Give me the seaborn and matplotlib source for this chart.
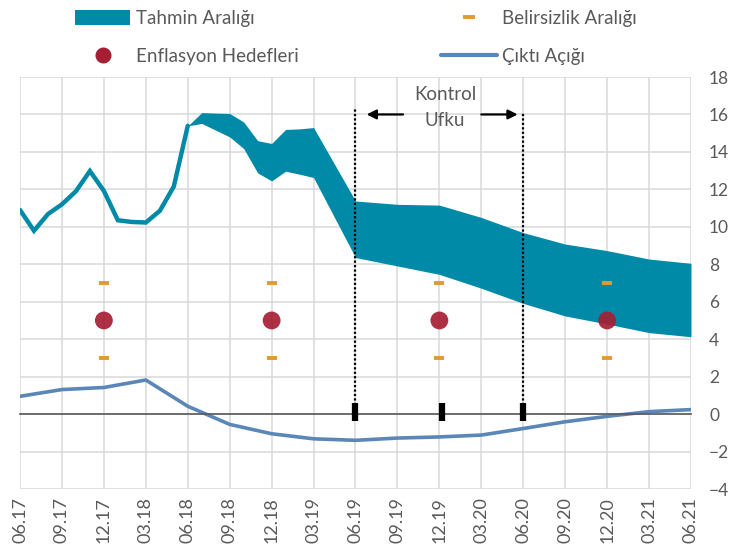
import matplotlib
matplotlib.use("Agg")
import matplotlib.pyplot as plt
import seaborn as sns
from matplotlib.patches import Patch
from matplotlib.lines import Line2D

# ---------------- data ----------------
tick_labels = ['06.17', '09.17', '12.17', '03.18', '06.18', '09.18', '12.18', '03.19',
               '06.19', '09.19', '12.19', '03.20', '06.20', '09.20', '12.20', '03.21', '06.21']
tick_months = list(range(0, 49, 3))

hist_month = list(range(13))
hist_infl = [10.9, 9.79, 10.68, 11.2, 11.9, 12.98, 11.92, 10.35, 10.26, 10.23, 10.85, 12.15, 15.39]

band_month = [12, 13, 14, 15, 16, 17, 18, 19, 20, 21, 24, 27, 30, 33, 36, 39, 42, 45, 48]
band_upper = [15.39, 16.1, 16.07, 16.05, 15.6, 14.6, 14.45, 15.2, 15.23, 15.3,
              11.38, 11.2, 11.16, 10.5, 9.69, 9.08, 8.73, 8.28, 8.05]
band_lower = [15.39, 15.52, 15.16, 14.8, 14.18, 12.88, 12.45, 12.97, 12.81, 12.63,
              8.36, 7.91, 7.46, 6.72, 5.91, 5.24, 4.81, 4.35, 4.13]

gap_month = list(range(0, 49, 3))
gap_values = [0.95, 1.31, 1.42, 1.82, 0.42, -0.55, -1.05, -1.32, -1.4, -1.28, -1.22,
              -1.12, -0.77, -0.41, -0.12, 0.13, 0.24]

target_month = [6, 18, 30, 42]
target_values = [5, 5, 5, 5]
unc_upper = [7, 7, 7, 7]
unc_lower = [3, 3, 3, 3]

horizon_month = [24, 36]
horizon_top = [16.3, 16.15]
marker_month = [24, 30.2, 36]

# ---------------- style ----------------
sns.set_style("white")
plt.rcParams['font.family'] = ['Lato', 'DejaVu Sans']
TXT = '#595959'
BAND = '#008AA8'
RED = '#A61E34'
ORANGE = '#E39A2C'
GAP = '#5B87B8'

fig = plt.figure(figsize=(7.31, 5.58), dpi=100)
ax = fig.add_axes([20 / 731, 69 / 558, 671 / 731, 412 / 558])

ax.fill_between(band_month, band_lower, band_upper, color=BAND, lw=0, zorder=2)
sns.lineplot(x=hist_month, y=hist_infl, ax=ax, color=BAND, lw=3.2, zorder=3,
             solid_joinstyle='miter')
sns.lineplot(x=gap_month, y=gap_values, ax=ax, color=GAP, lw=2.6, zorder=3)

# uncertainty dashes
sns.scatterplot(x=target_month + target_month, y=unc_upper + unc_lower, ax=ax,
                marker='_', s=60, linewidth=2.8, color=ORANGE, zorder=4)
sns.scatterplot(x=target_month, y=target_values, ax=ax, s=165, color=RED,
                edgecolor='none', alpha=0.92, zorder=5)

# control horizon
for m, t in zip(horizon_month, horizon_top):
    ax.plot([m, m], [0.5, t], color='black', lw=1.6, ls=(0, (1, 1)), zorder=4)
ax.vlines(marker_month, -0.35, 0.58, color='black', lw=4.5, zorder=6)
ax.annotate('', xy=(24.6, 16.0), xytext=(27.6, 16.0),
            arrowprops=dict(arrowstyle='-|>', color='black', lw=1.6, mutation_scale=14))
ax.annotate('', xy=(35.8, 16.0), xytext=(32.8, 16.0),
            arrowprops=dict(arrowstyle='-|>', color='black', lw=1.6, mutation_scale=14))
ax.text(30.4, 17.05, 'Kontrol', ha='center', va='center', fontsize=13.5, color=TXT)
ax.text(30.4, 15.7, 'Ufku', ha='center', va='center', fontsize=13.5, color=TXT)

# axes
ax.set_xlim(0, 48)
ax.set_ylim(-4, 18)
ax.set_yticks(range(-4, 19, 2))
ax.yaxis.tick_right()
ax.tick_params(axis='y', length=0, pad=13, labelsize=12.5, labelcolor=TXT)
ax.set_xticks(tick_months)
ax.tick_params(axis='x', direction='out', length=5, width=1, color='#595959',
               labelbottom=False)
for s in ['left', 'right', 'top']:
    ax.spines[s].set_visible(False)
ax.spines['bottom'].set_position(('data', 0))
ax.spines['bottom'].set_color('#595959')
ax.spines['bottom'].set_linewidth(1.2)
ax.spines['bottom'].set_zorder(3.5)
ax.grid(True, color='#D9D9D9', lw=1.1)
ax.set_axisbelow(True)
ax.set_xlabel('')
ax.set_ylabel('')

sec = ax.secondary_xaxis(0)
sec.set_xticks(tick_months)
sec.set_xticklabels(tick_labels, rotation=90, fontsize=13, color=TXT)
sec.tick_params(length=0, pad=6)
sec.spines['bottom'].set_visible(False)

handles = [Patch(facecolor=BAND, edgecolor='none'),
           Line2D([], [], marker='o', ls='', color=RED, ms=10.5),
           Line2D([], [], marker='_', ls='', color=ORANGE, ms=8, mew=2.8),
           Line2D([], [], color=GAP, lw=3)]
labels = ['Tahmin Aralığı', 'Enflasyon Hedefleri', 'Belirsizlik Aralığı', 'Çıktı Açığı']
fig.legend(handles, labels, ncol=2, loc='upper left', bbox_to_anchor=(75 / 731, 0.982),
           frameon=False, fontsize=13.5, handlelength=2.95, handleheight=0.8,
           handletextpad=0.3, columnspacing=7.6, labelspacing=1.13, borderpad=0,
           borderaxespad=0, labelcolor=TXT)

fig.savefig('out.png', dpi=100)
